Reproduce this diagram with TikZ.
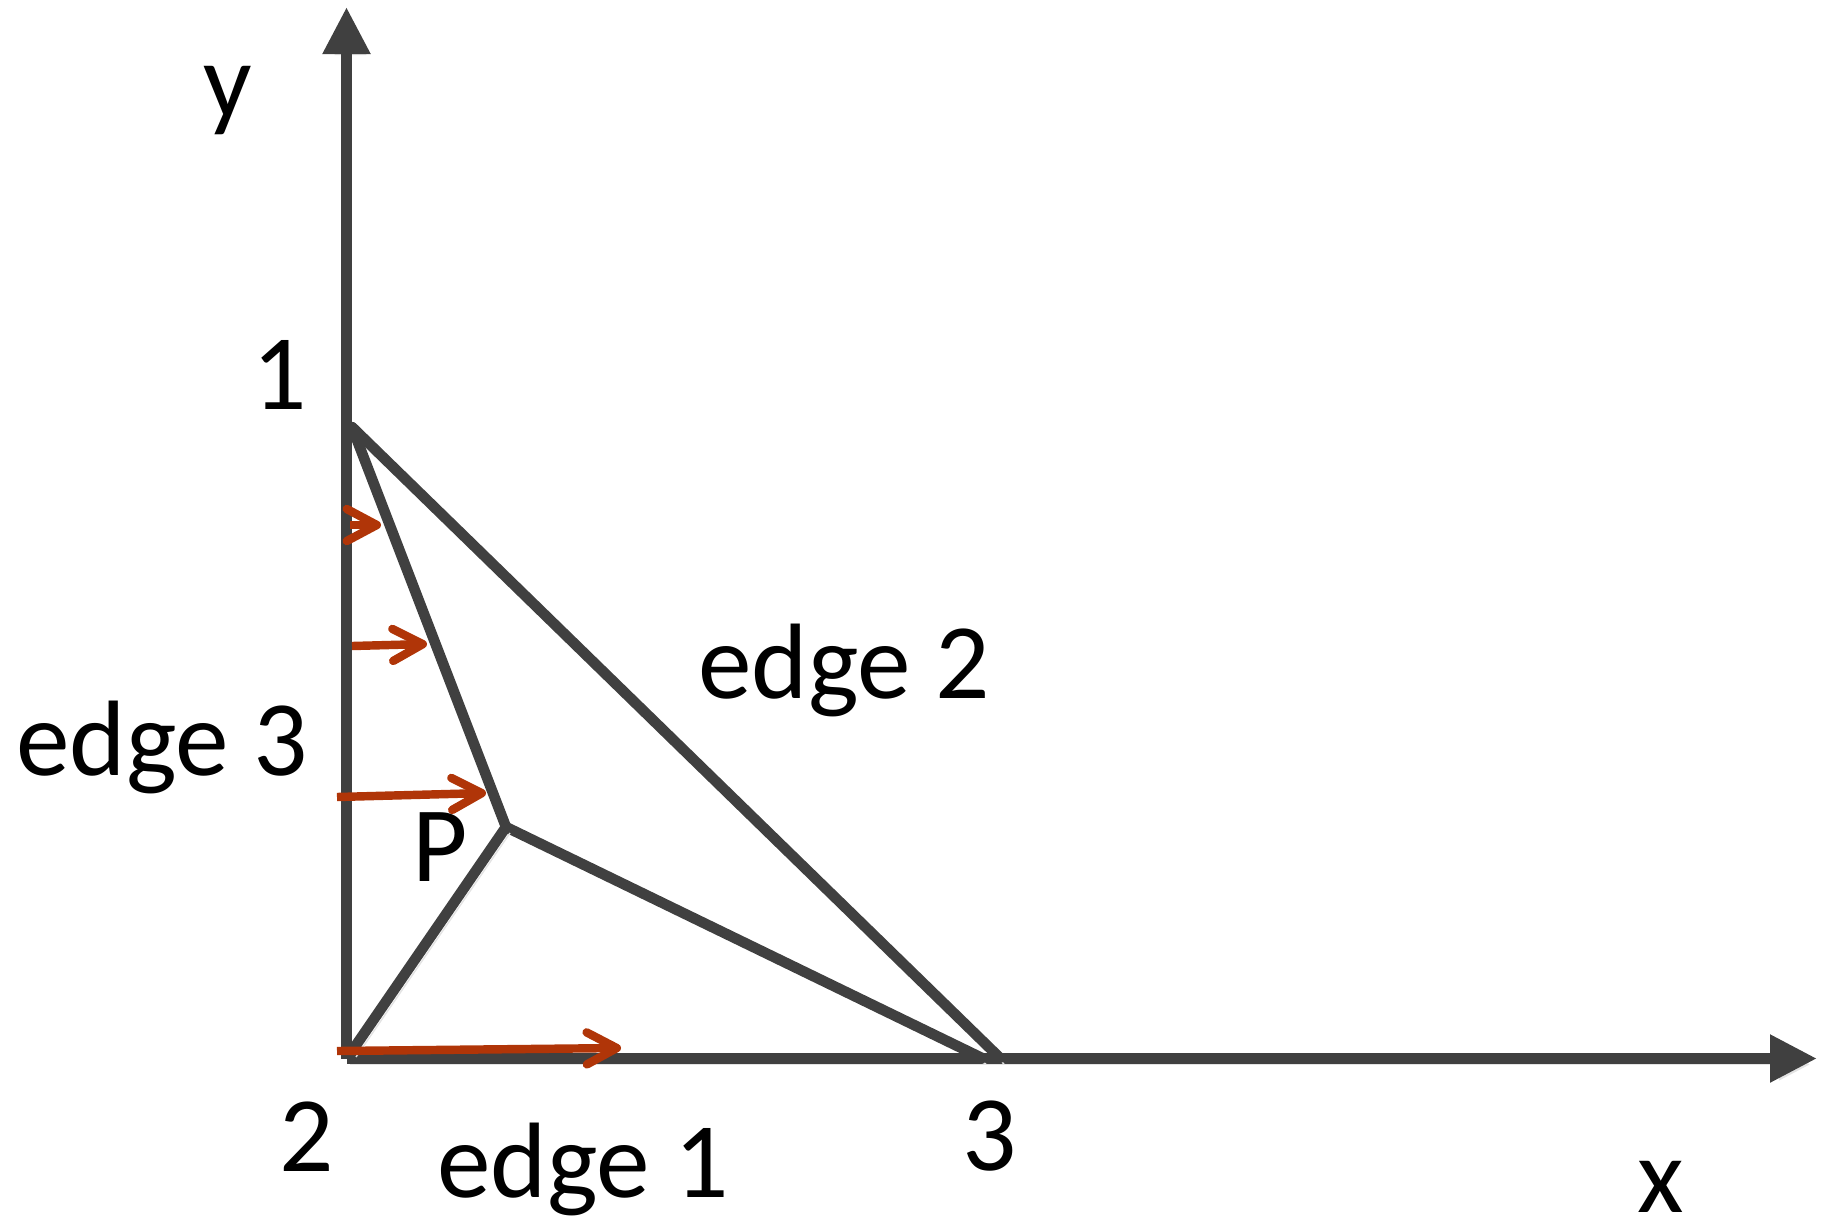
\documentclass[tikz,border=0pt]{standalone}
\usepackage{fontspec}
\setmainfont{Carlito}
\usepackage{xcolor}
\usetikzlibrary{arrows.meta,positioning}
\definecolor{axisgray}{HTML}{404040}
\definecolor{flowred}{HTML}{B03508}
\tikzset{
  shadowed/.style={preaction={draw=black!11, transform canvas={shift={(0.04cm,-0.06cm)}}}},
  axisline/.style={draw=axisgray, line width=3.2pt, shadowed, -{Triangle[length=0.47cm, width=0.45cm]}},
  edgeline/.style={draw=axisgray, line width=3pt, line cap=round, shadowed},
  flow/.style={draw=flowred, line width=2.4pt, -{Straight Barb[length=0.3cm, width=0.32cm, round]}},
  lbl/.style={anchor=base, inner sep=0pt, font=\fontsize{30.5}{36}\selectfont},
}

\begin{document}
\begin{tikzpicture}[x=0.01cm, y=-0.01cm]
  \useasboundingbox (0,0) rectangle (1831,1230);
  % vertices and axes
  \coordinate (o) at (346.5,1058.5);
  \coordinate (ytip) at (346.5,7);
  \coordinate (xtip) at (1817,1058.5);
  \coordinate (v1) at (352,427);
  \coordinate (v2) at (352,1051);
  \coordinate (v3) at (1000,1058);
  \coordinate (v3p) at (982,1058);
  \coordinate (p) at (506,827);
  \draw[axisline] (o) -- (ytip);
  \draw[axisline] (o) -- (xtip);
  \draw[edgeline] (v1) -- (v3);
  \draw[edgeline] (v1) -- (p) -- (v3p);
  \draw[edgeline] (p) -- (v2);
  % flow arrows
  \coordinate (a1s) at (350,525);
  \coordinate (a1e) at (381,525);
  \coordinate (a2s) at (352,646);
  \coordinate (a2e) at (427,644);
  \coordinate (a3s) at (337,797);
  \coordinate (a3e) at (486,793);
  \coordinate (a4s) at (337,1051);
  \coordinate (a4e) at (621,1048);
  \draw[flow] (a1s) -- (a1e);
  \draw[flow] (a2s) -- (a2e);
  \draw[flow] (a3s) -- (a3e);
  \draw[flow] (a4s) -- (a4e);
  % labels
  \node[lbl] (ylab) at (228,117) {y};
  \node[lbl] (xlab) at (1661,1212) {x};
  \node[lbl] (n1) at (280,409) {1};
  \node[lbl] (n2) at (307,1171) {2};
  \node[lbl] (n3) at (990,1170) {3};
  \node[lbl] (plab) at (440,881) {P};
  \node[lbl] (e1) at (583,1197) {edge 1};
  \node[lbl] (e2) at (844,698) {edge 2};
  \node[lbl] (e3) at (162,775) {edge 3};
\end{tikzpicture}
\end{document}
